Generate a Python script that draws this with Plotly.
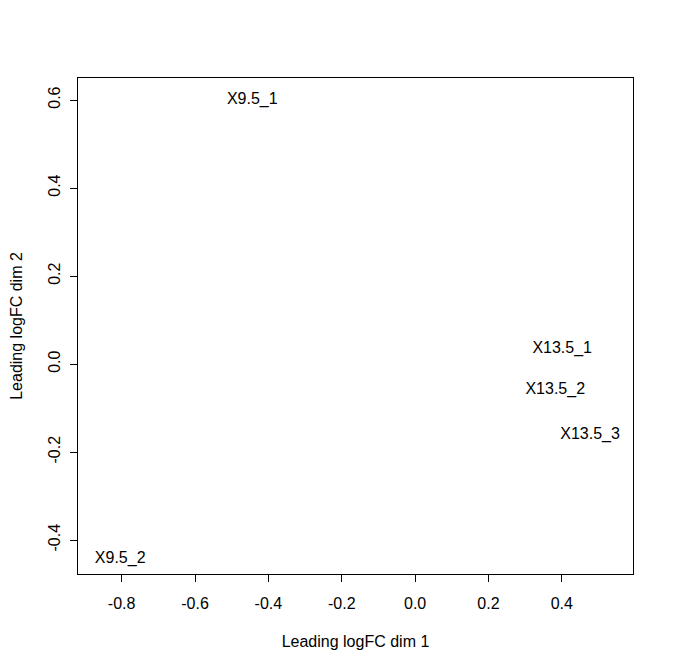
import plotly.graph_objects as go

labels = ["X9.5_1", "X9.5_2", "X13.5_1", "X13.5_2", "X13.5_3"]
dim1 = [-0.444, -0.804, 0.401, 0.382, 0.477]
dim2 = [0.600, -0.443, 0.034, -0.059, -0.162]
x_ticks = [-0.8, -0.6, -0.4, -0.2, 0.0, 0.2, 0.4]
y_ticks = [-0.4, -0.2, 0.0, 0.2, 0.4, 0.6]

font = dict(family="Liberation Sans, Arial, sans-serif", size=16, color="black")

fig = go.Figure(go.Scatter(
    x=dim1, y=dim2, mode="text", text=labels,
    textposition="middle center", textfont=font, hoverinfo="skip"))

fig.update_layout(
    width=674, height=672,
    margin=dict(l=70, r=49, t=70, b=106, autoexpand=False),
    paper_bgcolor="white", plot_bgcolor="white",
    showlegend=False, font=font,
)
fig.update_xaxes(
    range=[-0.919, 0.594], tickvals=x_ticks, automargin=False,
    ticktext=[f"{v:.1f}" for v in x_ticks],
    showgrid=False, zeroline=False, showline=True, mirror=True,
    linecolor="black", linewidth=1, ticks="outside", ticklen=7,
    tickcolor="black", tickfont=font, ticklabelstandoff=8,
    title=dict(text="Leading logFC dim 1", font=font, standoff=24),
)
fig.update_yaxes(
    range=[-0.477, 0.65], tickvals=y_ticks, automargin=False,
    ticktext=[f"{v:.1f}" for v in y_ticks],
    showgrid=False, zeroline=False, showline=True, mirror=True,
    linecolor="black", linewidth=1, ticks="outside", ticklen=7,
    tickcolor="black", tickfont=font, tickangle=-90, ticklabelstandoff=4,
    title=dict(text="Leading logFC dim 2", font=font, standoff=20),
)
fig.write_html("out.html")
